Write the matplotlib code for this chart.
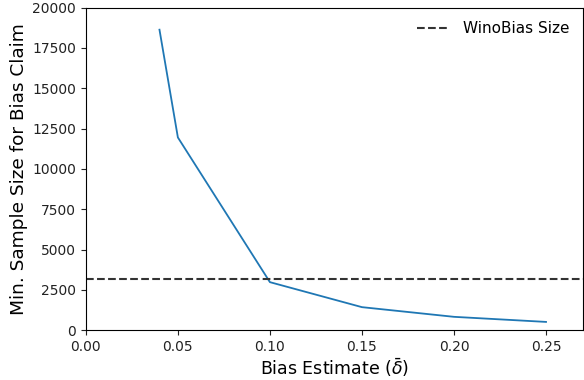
import matplotlib
matplotlib.use("Agg")
import matplotlib.pyplot as plt

bias = [0.04, 0.05, 0.10, 0.15, 0.20, 0.25]
sample_size = [18630, 11950, 2980, 1430, 830, 515]
winobias_size = 3160

fig = plt.figure(figsize=(5.84, 3.8), dpi=100)
ax = fig.add_axes([0.147, 0.131, 0.851, 0.849])
ax.plot(bias, sample_size, color='#1f77b4', lw=1.3)
ax.axhline(winobias_size, color='#333333', ls='--', lw=1.5, label='WinoBias Size')
ax.set_xlim(0, 0.27)
ax.set_ylim(0, 20000)
ax.set_xticks([0.00, 0.05, 0.10, 0.15, 0.20, 0.25])
ax.set_yticks([0, 2500, 5000, 7500, 10000, 12500, 15000, 17500, 20000])
ax.tick_params(labelsize=10, colors='#222222')
ax.set_xlabel(r'Bias Estimate ($\bar{\delta}$)', fontsize=12.5, labelpad=1.5)
ax.set_ylabel('Min. Sample Size for Bias Claim', fontsize=13.3, labelpad=3)
ax.legend(loc='upper right', frameon=False, fontsize=11, handlelength=2.2)
fig.savefig('out.png', dpi=100)
